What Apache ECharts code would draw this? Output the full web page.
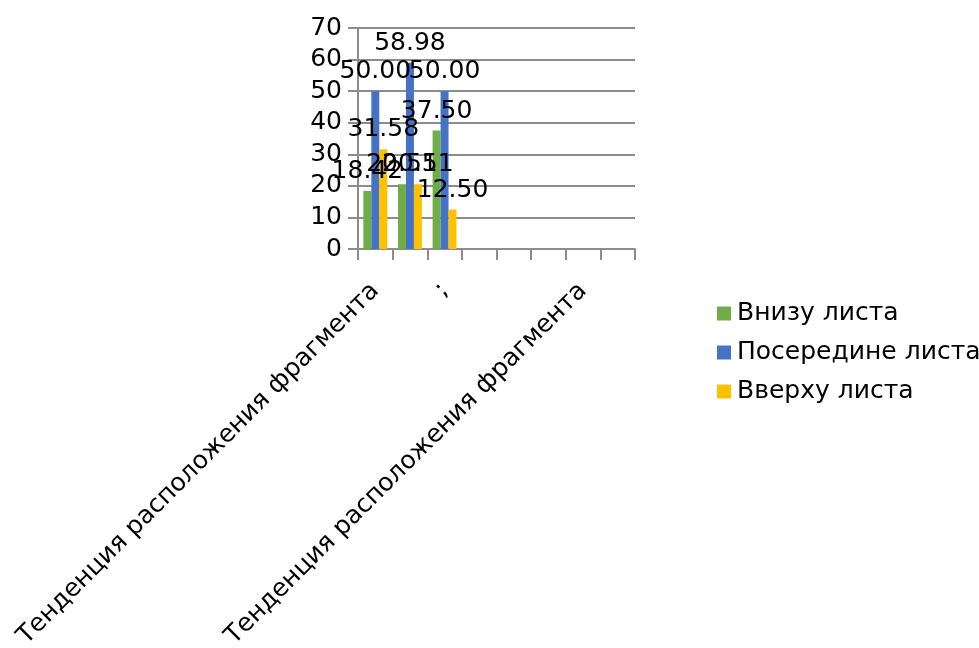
<!DOCTYPE html>
<html><head><meta charset="utf-8">
<script src="https://cdn.jsdelivr.net/npm/echarts@6/dist/echarts.min.js"></script>
<style>html,body{margin:0;padding:0;background:#fff}#c{width:979px;height:648px}</style>
</head><body><div id="c"></div>
<script>
const categories = ["Тенденция расположения фрагмента", "", ";", "", "", "", "Тенденция расположения фрагмента", ""];
const seriesNames = ["Внизу листа", "Посередине листа", "Вверху листа"];
const bottomValues = [18.42, 20.51, 37.50, null, null, null, null, null];
const middleValues = [50.00, 58.98, 50.00, null, null, null, null, null];
const topValues = [31.58, 20.51, 12.50, null, null, null, null, null];
const colors = ["#70AD47", "#4472C4", "#FFC000"];
const yTicks = [0, 10, 20, 30, 40, 50, 60, 70];

const font = "DejaVu Sans";
const fs = 25;
function mk(name, data, color) {
  return {
    name, type: 'bar', data, barGap: '0%', barCategoryGap: '31%',
    itemStyle: { color },
    label: { show: true, position: 'top', distance: 7, color: '#000', fontFamily: font, fontSize: fs,
      formatter: p => p.value == null ? '' : Number(p.value).toFixed(2) }
  };
}
const chart = echarts.init(document.getElementById('c'), null, { renderer: 'canvas' });
chart.setOption({
  animation: false,
  textStyle: { fontFamily: font },
  grid: { left: 358, right: 344, top: 28, bottom: 399, containLabel: false, outerBoundsMode: 'none' },
  legend: {
    orient: 'vertical', left: 712, top: 296, itemWidth: 14, itemHeight: 14, itemGap: 14,
    icon: 'rect', data: seriesNames,
    textStyle: { fontFamily: font, fontSize: fs, lineHeight: 24, color: '#000', padding: [0, 0, 0, 1] }
  },
  xAxis: {
    type: 'category', data: categories,
    axisLine: { lineStyle: { color: '#8c8c8c', width: 2 } },
    axisTick: { show: true, length: 11, alignWithLabel: false, lineStyle: { color: '#8c8c8c', width: 2 }, interval: 0 },
    axisLabel: { interval: 1, rotate: 45, fontFamily: font, fontSize: fs, color: '#000', margin: 38 }
  },
  yAxis: {
    type: 'value', min: yTicks[0], max: yTicks[yTicks.length - 1], interval: 10,
    axisLine: { show: true, lineStyle: { color: '#8c8c8c', width: 2 } },
    axisTick: { show: true, length: 10, lineStyle: { color: '#8c8c8c', width: 2 } },
    splitLine: { lineStyle: { color: '#8c8c8c', width: 2 } },
    axisLabel: { fontFamily: font, fontSize: fs, color: '#000', margin: 16 }
  },
  series: [mk(seriesNames[0], bottomValues, colors[0]), mk(seriesNames[1], middleValues, colors[1]), mk(seriesNames[2], topValues, colors[2])]
});
</script></body></html>
